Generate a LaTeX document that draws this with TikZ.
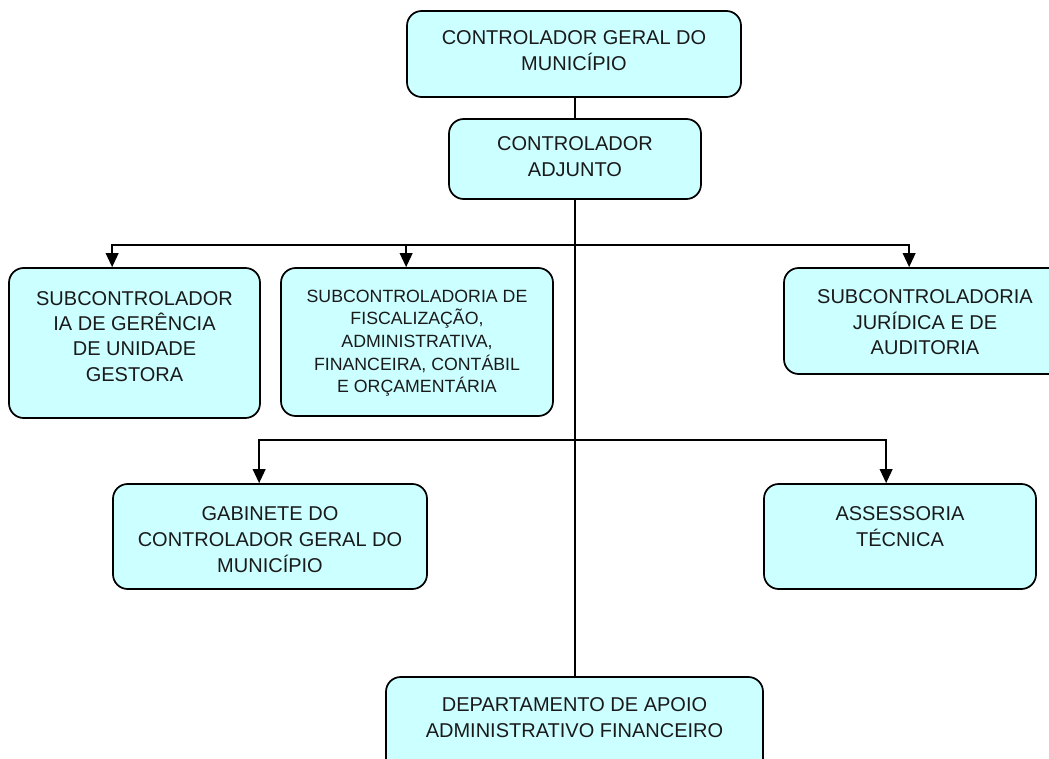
\documentclass[tikz,border=0pt]{standalone}
\usepackage{fontspec}
\setmainfont{Liberation Sans}
\usetikzlibrary{arrows.meta,calc}
\definecolor{boxfill}{HTML}{CCFFFF}
\definecolor{inkc}{HTML}{1A1A1A}
\newcommand{\mkbox}[8]{%
  \pgfmathsetlengthmacro\myBW{(#4-#2)*0.75pt}%
  \pgfmathsetlengthmacro\myBH{(#5-#3)*0.75pt}%
  \pgfmathsetlengthmacro\myOff{#6*0.75pt}%
  \node[orgbox, minimum width=\myBW, minimum height=\myBH] (#1) at ({(#2+#4)/2},{(#3+#5)/2})
   {\parbox[c][\myBH][t]{\myBW}{#7\centering\vspace*{\dimexpr\myOff-0.74em\relax}\rule{0pt}{0.74em}#8\par}};}
\begin{document}
\begin{tikzpicture}[x=0.75pt,y=-0.75pt,
  orgbox/.style={draw=black, line width=1.3pt, fill=boxfill, rounded corners=11pt, inner sep=0pt, text=inkc},
  trunk/.style={draw=black, line width=1.3pt},
  conn/.style={draw=black, line width=1.3pt, -{Triangle[width=9.5pt,length=10.5pt]}}]
\fill[white] (0,0) rectangle (1049,759);
\path[use as bounding box, clip] (0,0) rectangle (1049,759);
\def\fA{\fontsize{15pt}{19.5pt}\selectfont}
\def\fB{\fontsize{15pt}{19.1pt}\selectfont}
\def\fC{\fontsize{13.3pt}{17pt}\selectfont}
\mkbox{b1}{407}{11}{741}{97}{34}{\fA}{CONTROLADOR GERAL DO\\MUNICÍPIO}
\mkbox{b2}{449}{119}{701}{199}{32}{\fA}{CONTROLADOR\\ADJUNTO}
\mkbox{b3}{9}{268}{260}{418}{37}{\fB}{SUBCONTROLADOR\\IA DE GERÊNCIA\\DE UNIDADE\\GESTORA}
\mkbox{b4}{281}{268}{553}{416}{34}{\fC}{SUBCONTROLADORIA DE\\FISCALIZAÇÃO,\\ADMINISTRATIVA,\\FINANCEIRA, CONTÁBIL\\E ORÇAMENTÁRIA}
\mkbox{b5}{784}{268}{1066}{374}{35}{\fA}{SUBCONTROLADORIA\\JURÍDICA E DE\\AUDITORIA}
\mkbox{b6}{113}{484}{427}{589}{36}{\fA}{GABINETE DO\\CONTROLADOR GERAL DO\\MUNICÍPIO}
\mkbox{b7}{764}{484}{1036}{589}{36}{\fA}{ASSESSORIA\\TÉCNICA}
\mkbox{b8}{386}{677}{763}{790}{34}{\fA}{DEPARTAMENTO DE APOIO\\ADMINISTRATIVO FINANCEIRO}
\draw[trunk] (b2.north) -- (b2.north |- b1.south);
\draw[trunk] (b2.south) -- (b2.south |- b8.north);
\coordinate (j1) at (575,245);
\coordinate (j2) at (575,440);
\draw[conn] (j1) -| ($(b3.north west)+(104,0)$);
\draw[conn] (j1) -| ($(b4.north west)+(126,0)$);
\draw[conn] (j1) -| ($(b5.north west)+(126,0)$);
\draw[conn] (j2) -| ($(b6.north west)+(147,0)$);
\draw[conn] (j2) -| ($(b7.north west)+(123,0)$);
\end{tikzpicture}
\end{document}
